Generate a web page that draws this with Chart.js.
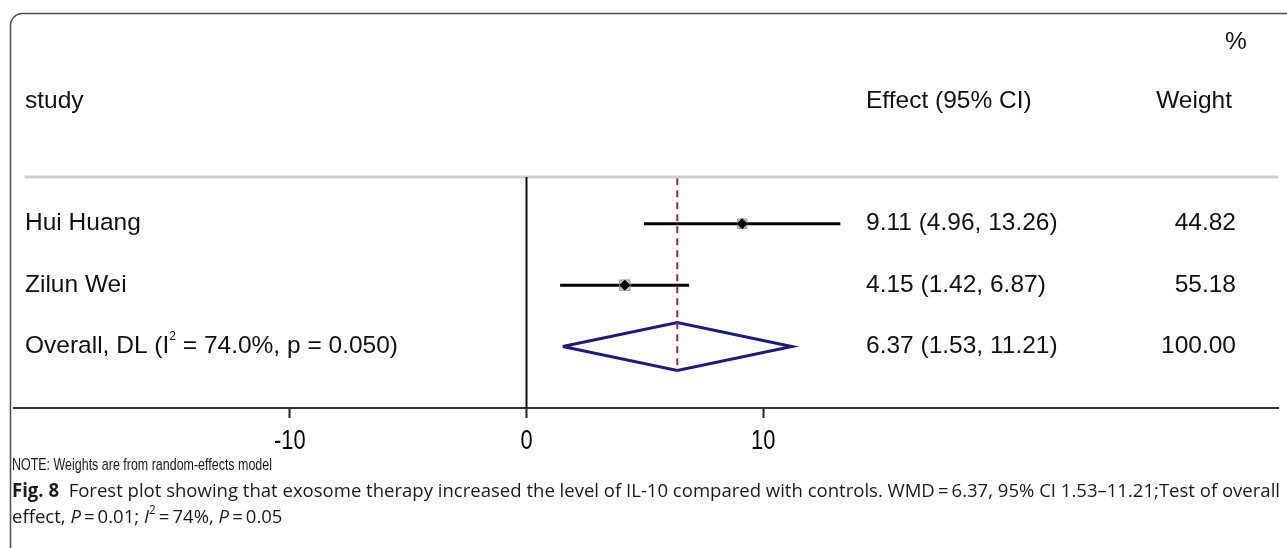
<!DOCTYPE html>
<html>
<head>
<meta charset="utf-8">
<script src="https://cdn.jsdelivr.net/npm/chart.js@4.4.1/dist/chart.umd.min.js"></script>
<style>
  html, body { margin: 0; padding: 0; background: #fff; }
  canvas { display: block; }
</style>
</head>
<body>
<canvas id="forest" width="1287" height="548"></canvas>
<script>
// study level estimates (WMD, 95% CI) and random-effects weights
const studies = ['Hui Huang', 'Zilun Wei'];
const effects = [9.11, 4.15];
const lower = [4.96, 1.42];
const upper = [13.26, 6.87];
const weights = [44.82, 55.18];

// pooled DerSimonian-Laird estimate
const overallEffect = 6.37;
const overallLower = 1.53;
const overallUpper = 11.21;
const overallWeight = 100.00;
const i2 = 74.0;
const pHet = 0.050;

const xTicks = [-10, 0, 10];

const X_MIN = -21.65, X_MAX = 31.77;
const overallRow = studies.length + 1;
const halfDiamond = 0.39;

const SANS = '"Liberation Sans", Arial, sans-serif';
const CAP = '"Open Sans", sans-serif';

const fmt = v => v.toFixed(2);

const datasets = [];

// header separator and null line
datasets.push({
  data: [{ x: -21.2, y: 0.24 }, { x: X_MAX, y: 0.24 }],
  borderColor: '#cfcfcf', borderWidth: 3, order: 20
});
datasets.push({
  data: [{ x: 0, y: 0.24 }, { x: 0, y: 4 }],
  borderColor: '#111', borderWidth: 2, order: 19
});

// confidence intervals
studies.forEach((s, i) => {
  datasets.push({
    data: [{ x: lower[i], y: i + 1 }, { x: upper[i], y: i + 1 }],
    borderColor: '#000', borderWidth: 3, order: 10
  });
});

// weight boxes
datasets.push({
  type: 'scatter',
  data: effects.map((e, i) => ({ x: e, y: i + 1 })),
  pointStyle: 'rect',
  pointRadius: weights.map(w => Math.sqrt(w) * 1.0),
  backgroundColor: 'rgba(190,190,190,0.9)',
  borderColor: 'rgba(150,150,150,0.9)', borderWidth: 1,
  order: 8
});

// point estimates
datasets.push({
  type: 'scatter',
  data: effects.map((e, i) => ({ x: e, y: i + 1 })),
  pointStyle: 'rectRot', pointRadius: 5,
  backgroundColor: '#000', borderColor: '#000', borderWidth: 1,
  order: 6
});

// pooled diamond
datasets.push({
  data: [
    { x: overallLower, y: overallRow },
    { x: overallEffect, y: overallRow - halfDiamond },
    { x: overallUpper, y: overallRow },
    { x: overallEffect, y: overallRow + halfDiamond },
    { x: overallLower, y: overallRow }
  ],
  borderColor: '#1c1c80', borderWidth: 3, order: 4
});

// pooled estimate reference line
datasets.push({
  data: [{ x: overallEffect, y: 0.26 }, { x: overallEffect, y: overallRow + halfDiamond + 0.03 }],
  borderColor: '#a3283a', borderWidth: 2, borderDash: [7, 5], order: 2
});

datasets.forEach(d => {
  if (!d.type) { d.type = 'line'; d.pointRadius = 0; d.tension = 0; d.fill = false; }
});

function drawRuns(ctx, runs, x, y, sx) {
  ctx.save();
  ctx.translate(x, y);
  ctx.scale(sx || 1, 1);
  let cx = 0;
  runs.forEach(r => {
    ctx.font = r.font;
    ctx.fillText(r.text, cx, r.dy || 0);
    cx += ctx.measureText(r.text).width;
  });
  ctx.restore();
}

function runsWidth(ctx, runs) {
  let w = 0;
  runs.forEach(r => { ctx.font = r.font; w += ctx.measureText(r.text).width; });
  return w;
}

// condensed text: squeeze horizontally around the anchor point
function narrowText(ctx, text, x, y, sx, align) {
  ctx.save();
  ctx.translate(x, y);
  ctx.scale(sx, 1);
  ctx.textAlign = align;
  ctx.fillText(text, 0, 0);
  ctx.restore();
}

const framePlugin = {
  id: 'frame',
  beforeDraw(chart) {
    const ctx = chart.ctx, r = 12;
    ctx.save();
    ctx.strokeStyle = '#4a4a4a';
    ctx.lineWidth = 1.5;
    ctx.beginPath();
    ctx.moveTo(10.5, chart.height);
    ctx.lineTo(10.5, 13.5 + r);
    ctx.arcTo(10.5, 13.5, 10.5 + r, 13.5, r);
    ctx.lineTo(chart.width, 13.5);
    ctx.stroke();
    ctx.restore();
  }
};

const textPlugin = {
  id: 'forestText',
  afterDraw(chart) {
    const ctx = chart.ctx;
    const xS = chart.scales.x;
    const yS = chart.scales.y;
    const colEffect = 866, colWeight = 1236, colLabel = 25;
    ctx.save();
    ctx.fillStyle = '#111';
    ctx.textBaseline = 'middle';
    const F = '24.5px ' + SANS;
    ctx.font = F;

    // headers
    const yHead = yS.getPixelForValue(-1);
    ctx.textAlign = 'left';
    ctx.fillText('study', colLabel, yHead);
    ctx.fillText('Effect (95% CI)', colEffect, yHead);
    ctx.textAlign = 'right';
    ctx.fillText('Weight', 1232, yHead);
    ctx.textAlign = 'center';
    ctx.fillText('%', 1236, yS.getPixelForValue(-1.96));

    // study rows
    studies.forEach((s, i) => {
      const yy = yS.getPixelForValue(i + 1);
      ctx.textAlign = 'left';
      ctx.fillText(s, colLabel, yy);
      ctx.fillText(`${fmt(effects[i])} (${fmt(lower[i])}, ${fmt(upper[i])})`, colEffect, yy);
      ctx.textAlign = 'right';
      ctx.fillText(fmt(weights[i]), colWeight, yy);
    });

    // overall row
    const yo = yS.getPixelForValue(overallRow);
    ctx.textAlign = 'left';
    drawRuns(ctx, [
      { text: 'Overall, DL (I', font: F },
      { text: '2', font: '12px ' + SANS, dy: -10 },
      { text: ` = ${i2.toFixed(1)}%, p = ${pHet.toFixed(3)})`, font: F }
    ], colLabel, yo);
    ctx.font = F;
    ctx.fillText(`${fmt(overallEffect)} (${fmt(overallLower)}, ${fmt(overallUpper)})`, colEffect, yo);
    ctx.textAlign = 'right';
    ctx.fillText(fmt(overallWeight), colWeight, yo);

    // axis tick labels, condensed
    ctx.fillStyle = '#000';
    ctx.font = '28px ' + SANS;
    xS.ticks.forEach(t => {
      narrowText(ctx, String(t.value), xS.getPixelForValue(t.value), 441, 0.78, 'center');
    });

    // note, squeezed to its column width
    ctx.fillStyle = '#1a1a1a';
    ctx.font = '17px ' + SANS;
    const note = 'NOTE: Weights are from random-effects model';
    narrowText(ctx, note, 12, 465, 260 / ctx.measureText(note).width, 'left');

    // caption
    ctx.textAlign = 'left';
    ctx.textBaseline = 'middle';
    const C = '19px ' + CAP;
    const CB = 'bold 19px ' + CAP;
    const CI = 'italic 19px ' + CAP;
    const line1 = [
      { text: 'Fig. 8', font: CB },
      { text: '  Forest plot showing that exosome therapy increased the level of IL-10 compared with controls. WMD\u2009=\u20096.37, 95% CI 1.53\u201311.21;Test of overall', font: C }
    ];
    const line2 = [
      { text: 'effect, ', font: C },
      { text: 'P', font: CI },
      { text: '\u2009=\u20090.01; ', font: C },
      { text: 'I', font: CI },
      { text: '2', font: '12px ' + CAP, dy: -7 },
      { text: '\u2009=\u200974%, ', font: C },
      { text: 'P', font: CI },
      { text: '\u2009=\u20090.05', font: C }
    ];
    ctx.fillStyle = '#1a1a1a';
    const sx = 1268 / runsWidth(ctx, line1);
    drawRuns(ctx, line1, 12, 492, sx);
    drawRuns(ctx, line2, 12, 518, sx);
    ctx.restore();
  }
};

new Chart(document.getElementById('forest'), {
  type: 'line',
  data: { datasets },
  options: {
    responsive: false,
    animation: false,
    events: [],
    layout: { padding: { left: 14, right: 7, top: 13, bottom: 0 } },
    plugins: { legend: { display: false }, tooltip: { enabled: false } },
    scales: {
      x: {
        type: 'linear',
        position: 'bottom',
        min: X_MIN,
        max: X_MAX,
        afterBuildTicks: s => { s.ticks = xTicks.map(v => ({ value: v })); },
        afterFit: s => { s.height = 140; },
        border: { display: true, color: '#333', width: 2 },
        grid: { drawOnChartArea: false, drawTicks: true, tickLength: 10, tickColor: '#222', tickWidth: 2 },
        ticks: { display: false }
      },
      y: {
        type: 'linear',
        reverse: true,
        min: -2.43,
        max: 4,
        display: false
      }
    }
  },
  plugins: [framePlugin, textPlugin]
});
</script>
</body>
</html>
